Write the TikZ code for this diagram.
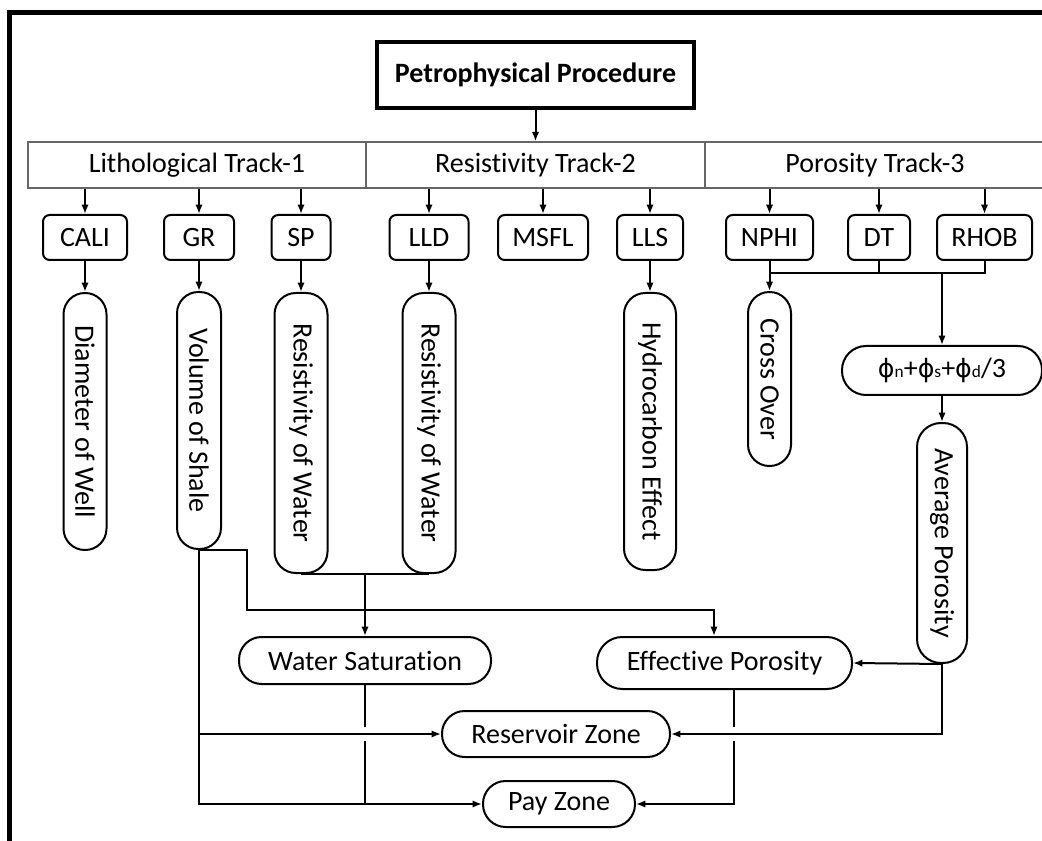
\documentclass[tikz,border=0pt]{standalone}
\usepackage{fontspec}
\setmainfont{Carlito}[Ligatures=NoCommon]
\newfontfamily\phifont{DejaVu Sans}
\usepackage{graphicx}
\usetikzlibrary{arrows.meta,calc}
\newcommand{\smallsub}[1]{{\fontsize{13}{13}\selectfont #1}}
\newcommand{\phisym}{{\phifont\fontsize{19}{19}\selectfont ϕ}}
\begin{document}
\begin{tikzpicture}[x=0.75pt,y=-0.75pt,
  font=\fontsize{21}{25}\selectfont,
  line width=1.5pt,
  arr/.style={-{Latex[length=7pt,width=5.5pt]}},
  titlebox/.style={draw, line width=2.3pt, font=\fontsize{21}{25}\selectfont\bfseries, inner sep=0pt},
  trackcell/.style={draw=black!60, line width=1pt, inner sep=0pt, minimum height=46*0.75pt},
  logbox/.style={draw, rounded corners=5pt, inner sep=0pt, minimum height=45*0.75pt},
  vpill/.style={draw, rounded corners=16pt, inner sep=0pt},
  hpill/.style={draw, rounded corners=17pt, inner sep=0pt},
  frame/.style={line width=3.8pt}
]
\useasboundingbox (0,0) rectangle (1042,841);
\fill[white] (0,0) rectangle (1042,841);
\clip (0,0) rectangle (1042,841);

% frame
\coordinate (fa) at (9.5,850);
\coordinate (fb) at (9.5,12.5);
\coordinate (fc) at (1050,12.5);
\draw[frame] (fa) -- (fb) -- (fc);

% title and tracks
\node[titlebox, minimum width=317*0.75pt, minimum height=66*0.75pt] (title) at (535.5,75) {Petrophysical Procedure};
\node[trackcell, minimum width=338*0.75pt] (t1) at (197,165) {Lithological Track-1};
\node[trackcell, minimum width=339*0.75pt] (t2) at (535.5,165) {Resistivity Track-2};
\node[trackcell, minimum width=340*0.75pt] (t3) at (875,165) {Porosity Track-3};
\draw[arr] (title.south) -- (title.south |- t2.north);

% log boxes
\node[logbox, minimum width=84*0.75pt] (cali) at (85,237.5) {CALI};
\node[logbox, minimum width=70*0.75pt] (gr) at (199,237.5) {GR};
\node[logbox, minimum width=59*0.75pt] (sp) at (301,237.5) {SP};
\node[logbox, minimum width=79*0.75pt] (lld) at (429,237.5) {LLD};
\node[logbox, minimum width=90*0.75pt] (msfl) at (543,237.5) {MSFL};
\node[logbox, minimum width=66*0.75pt] (lls) at (650,237.5) {LLS};
\node[logbox, minimum width=87*0.75pt] (nphi) at (769.5,237.5) {NPHI};
\node[logbox, minimum width=62*0.75pt] (dt) at (879,237.5) {DT};
\node[logbox, minimum width=95*0.75pt] (rhob) at (984.5,237.5) {RHOB};

\draw[arr] (cali.north |- t1.south) -- (cali.north);
\draw[arr] (gr.north |- t1.south) -- (gr.north);
\draw[arr] (sp.north |- t1.south) -- (sp.north);
\draw[arr] (lld.north |- t2.south) -- (lld.north);
\draw[arr] (msfl.north |- t2.south) -- (msfl.north);
\draw[arr] (lls.north |- t2.south) -- (lls.north);
\draw[arr] (nphi.north |- t3.south) -- (nphi.north);
\draw[arr] (dt.north |- t3.south) -- (dt.north);
\draw[arr] (rhob.north |- t3.south) -- (rhob.north);

% vertical pills
\node[vpill, minimum width=43*0.75pt, minimum height=257*0.75pt] (dia) at (85,421.5) {\rotatebox{-90}{Diameter of Well}};
\node[vpill, minimum width=44*0.75pt, minimum height=257*0.75pt] (vol) at (199,420.5) {\rotatebox{-90}{Volume of Shale}};
\node[vpill, minimum width=53*0.75pt, minimum height=280*0.75pt] (rsp) at (301,433) {\rotatebox{-90}{Resistivity of Water}};
\node[vpill, minimum width=53*0.75pt, minimum height=280*0.75pt] (rlld) at (429,433) {\rotatebox{-90}{Resistivity of Water}};
\node[vpill, minimum width=52*0.75pt, minimum height=277*0.75pt] (hyd) at (650,431.5) {\rotatebox{-90}{Hydrocarbon Effect}};
\node[vpill, minimum width=43*0.75pt, minimum height=174*0.75pt] (cross) at (769.5,379) {\rotatebox{-90}{Cross Over}};
\node[hpill, rounded corners=18pt, minimum width=200*0.75pt, minimum height=49*0.75pt] (phi) at (942,370.5) {\phisym\smallsub{n}+\phisym\smallsub{s}+\phisym\smallsub{d}/3};
\node[vpill, rounded corners=18pt, minimum width=50*0.75pt, minimum height=240*0.75pt] (avg) at (942,543) {\rotatebox{-90}{Average Porosity}};

% horizontal pills
\node[hpill, minimum width=252*0.75pt, minimum height=47*0.75pt] (ws) at (365,660.5) {Water Saturation};
\node[hpill, rounded corners=19pt, minimum width=255*0.75pt, minimum height=52*0.75pt] (ep) at (724.5,663) {Effective Porosity};
\node[hpill, minimum width=228*0.75pt, minimum height=46*0.75pt] (rz) at (556,734) {Reservoir Zone};
\node[hpill, minimum width=152*0.75pt, minimum height=46*0.75pt] (pz) at (559,804) {Pay Zone};

% connectors
\draw[arr] (cali.south) -- (dia.north);
\draw[arr] (gr.south) -- (vol.north);
\draw[arr] (sp.south) -- (rsp.north);
\draw[arr] (lld.south) -- (rlld.north);
\draw[arr] (lls.south) -- (hyd.north);

\coordinate (pj) at (0,273);
\draw (dt.south) -- (dt.south |- pj);
\draw (rhob.south) -- (rhob.south |- pj) -- (nphi.south |- pj);
\draw[arr] (nphi.south) -- (cross.north);
\draw[arr] (phi.north |- pj) -- (phi.north);
\draw[arr] (phi.south) -- (avg.north);
\draw[arr] (avg.south) -- (ep.east);
\draw[arr] (avg.south) -- (avg.south |- rz.east) -- (rz.east);

\coordinate (vb) at (247,610);
\coordinate (ein) at (714,610);
\draw[arr] (vol.south) -- (vol.south -| vb) -- (vb) -- (ein) -- (ein |- ep.north);
\draw[arr] (vol.south) -- (vol.south |- pz.west) -- (pz.west);
\draw[arr] (vol.south |- rz.west) -- (rz.west);

\draw (rsp.south) -- (rlld.south);
\draw[arr] (ws.north |- rsp.south) -- (ws.north);

\draw (ws.south) -- ($(ws.south |- rz.west)+(0,-7)$);
\draw ($(ws.south |- rz.west)+(0,7)$) -- (ws.south |- pz.west);

\coordinate (eo) at ($(ep.south)+(9,0)$);
\draw (eo) -- ($(eo |- rz.east)+(0,-7)$);
\draw[arr] ($(eo |- rz.east)+(0,7)$) -- (eo |- pz.east) -- (pz.east);
\end{tikzpicture}
\end{document}
